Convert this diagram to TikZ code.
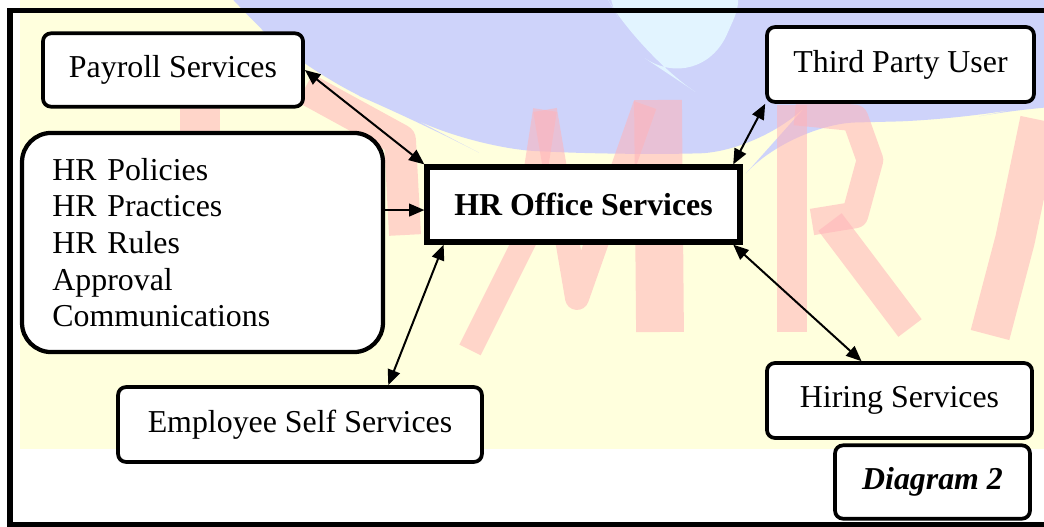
\documentclass[tikz,border=0pt]{standalone}
\usepackage{fontspec}
\setmainfont{Liberation Serif}
\usetikzlibrary{arrows.meta}

\definecolor{wmyellow}{RGB}{255,255,221}
\definecolor{wmblue}{RGB}{206,211,250}
\definecolor{wmcyan}{RGB}{226,244,255}
\definecolor{wmred}{RGB}{255,180,185}

\tikzset{
  svcbox/.style={draw, fill=white, rounded corners=3pt, line width=1.4pt,
    minimum height=27.6pt, inner sep=0pt, font=\fontsize{12}{13.8}\selectfont},
  hubbox/.style={svcbox, sharp corners, line width=2pt,
    font=\fontsize{12}{13.8}\selectfont\bfseries},
  hrtip/.tip={Triangle[length=5.8pt, width=4.8pt]},
  link/.style={line width=0.75pt, {hrtip}-{hrtip}},
  wmstroke/.style={draw=wmred, opacity=0.55, line width=#1, line join=round},
  wmstroke/.default=10pt
}

\begin{document}
\begin{tikzpicture}[x=0.3765pt, y=-0.3765pt]
\useasboundingbox (0,0) rectangle (1044,527);

% watermark behind the diagram
\fill[wmyellow] (20,0) rectangle (1044,449);
\fill[wmblue, rounded corners=25pt] (180,-60) -- (230,0) -- (310,75) -- (420,122) -- (470,148)
  -- (620,155) -- (765,152) -- (790,124) -- (960,120) -- (1044,104) -- (1120,104) -- (1120,-60) -- cycle;
\fill[wmcyan, rounded corners=25pt] (585,-40) -- (760,-40) -- (700,95) -- (640,55) -- cycle;
% F
\draw[wmstroke=15pt] (200,100) -- (200,340);
\draw[wmstroke=12pt] (305,88) -- (400,140) -- (405,235);
% M
\draw[wmstroke=9pt] (470,350) -- (525,240) -- (545,110);
\draw[wmstroke=9pt] (545,110) -- (577,298) -- (645,105);
\draw[wmstroke=18pt] (658,100) -- (660,332);
% R
\draw[wmstroke=11pt] (792,105) -- (792,332);
\draw[wmstroke=10pt] (795,112) -- (855,118) -- (870,160) -- (855,215) -- (812,222);
\draw[wmstroke=11pt] (830,222) -- (910,328);
% A
\draw[wmstroke=15pt] (990,335) -- (1015,240) -- (1040,120);

% outer frame, open to the right
\draw[line width=1.9pt] (1100,10.5) -- (10,10.5) -- (10,524.5) -- (1100,524.5);

\node[svcbox, minimum width=97.9pt] (pay) at (173,70) {Payroll Services};
\node[svcbox, rounded corners=11pt, line width=1.6pt, minimum width=135.9pt,
  minimum height=82.5pt, text width=113pt, align=left] (pol) at (202.5,242.5)
  {HR Policies\\HR Practices\\HR Rules\\Approval\\Communications};
\node[hubbox, minimum width=117.8pt, minimum height=28.2pt] (hro) at (583.5,204.5) {HR Office Services};
\node[svcbox, minimum width=100.5pt, minimum height=28.2pt] (tp) at (900.5,64.5) {Third Party User};
\node[svcbox, minimum width=137pt, minimum height=28.2pt] (ess) at (300,424.5) {Employee Self Services};
\node[svcbox, minimum width=99.8pt, minimum height=28.2pt] (hs) at (899.5,400.5) {Hiring Services};
\node[svcbox, minimum width=73.4pt, font=\fontsize{12}{13.8}\selectfont\bfseries\itshape] (dg) at (932.5,482) {Diagram 2};

\draw[link] (pay.east) -- (hro.north west);
\draw[line width=0.75pt, -{hrtip}] (pol.east |- hro.182) -- (hro.182);
\draw[link] (ess.24) -- (hro.196);
\draw[link] (tp.south west) -- (hro.15);
\draw[link] (hro.-15) -- (hs.134);

\end{tikzpicture}
\end{document}
